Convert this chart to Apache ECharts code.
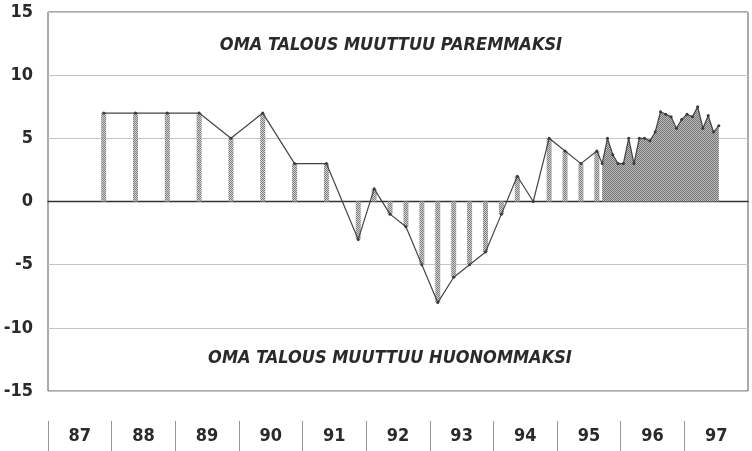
<!DOCTYPE html>
<html>
<head>
<meta charset="utf-8">
<script src="https://cdn.jsdelivr.net/npm/echarts@6/dist/echarts.min.js"></script>
<style>
  html, body { margin: 0; padding: 0; background: #fff; }
  #chart { width: 752px; height: 451px; }
</style>
</head>
<body>
<div id="chart"></div>
<script>
// survey months and balance figures (semiannual, later quarterly)
const sparseMonths = ['1987-11', '1988-05', '1988-11', '1989-05', '1989-11', '1990-05', '1990-11', '1991-05',
    '1991-11', '1992-02', '1992-05', '1992-08', '1992-11', '1993-02', '1993-05', '1993-08', '1993-11',
    '1994-02', '1994-05', '1994-08', '1994-11', '1995-02', '1995-05', '1995-08'];
const sparseValues = [7, 7, 7, 7, 5, 7, 3, 3,
    -3, 1, -1, -2, -5, -8, -6, -5, -4,
    -1, 2, 0, 5, 4, 3, 4];

// monthly figures from autumn 1995
const monthlyMonths = ['1995-09', '1995-10', '1995-11', '1995-12', '1996-01', '1996-02', '1996-03', '1996-04',
    '1996-05', '1996-06', '1996-07', '1996-08', '1996-09', '1996-10', '1996-11', '1996-12',
    '1997-01', '1997-02', '1997-03', '1997-04', '1997-05', '1997-06', '1997-07'];
const monthlyValues = [3, 5, 3.7, 3, 3, 5, 3, 5,
    5, 4.8, 5.5, 7.1, 6.9, 6.7, 5.8, 6.5,
    6.9, 6.7, 7.5, 5.8, 6.8, 5.5, 6];

const years = [1987, 1988, 1989, 1990, 1991, 1992, 1993, 1994, 1995, 1996, 1997];
const yearLabels = ['87', '88', '89', '90', '91', '92', '93', '94', '95', '96', '97'];
const yTicks = [-15, -10, -5, 0, 5, 10, 15];

const textTop = 'OMA TALOUS MUUTTUU PAREMMAKSI';
const textBottom = 'OMA TALOUS MUUTTUU HUONOMMAKSI';

const FONT = "'Liberation Sans Narrow', 'DejaVu Sans Condensed', 'Roboto Condensed', sans-serif";

// month string -> decimal year (middle of month)
function toYear(m) {
    const p = m.split('-');
    return Number(p[0]) + (Number(p[1]) - 0.5) / 12;
}

// stipple pattern like the printed halftone
function stipple(dark, light) {
    const c = document.createElement('canvas');
    c.width = 2;
    c.height = 2;
    const ctx = c.getContext('2d');
    ctx.fillStyle = light;
    ctx.fillRect(0, 0, 2, 2);
    ctx.fillStyle = dark;
    ctx.fillRect(0, 0, 1, 1);
    ctx.fillRect(1, 1, 1, 1);
    return { image: c, repeat: 'repeat' };
}

const sparseData = sparseMonths.map((m, i) => [toYear(m), sparseValues[i]]);
const monthlyData = monthlyMonths.map((m, i) => [toYear(m), monthlyValues[i]]);

const myChart = echarts.init(document.getElementById('chart'));
const option = {
    animation: false,
    backgroundColor: '#fff',
    grid: {
        left: 48, right: 4, top: 12, bottom: 60,
        show: true, borderColor: '#555', borderWidth: 1
    },
    xAxis: [
        {
            type: 'value',
            min: years[0],
            max: years[years.length - 1] + 1,
            axisLine: { show: true, onZero: true, lineStyle: { color: '#333', width: 1.4 } },
            axisTick: { show: false },
            axisLabel: { show: false },
            splitLine: { show: false }
        },
        {
            type: 'value',
            position: 'bottom',
            offset: 30,
            min: years[0],
            max: years[years.length - 1] + 1,
            axisLine: { show: false },
            axisTick: {
                show: true, length: 30, customValues: years,
                lineStyle: { color: '#999', width: 1 }
            },
            axisLabel: {
                show: true, margin: 6,
                customValues: years.map(y => y + 0.5),
                formatter: v => yearLabels[years.indexOf(Math.floor(v))],
                fontFamily: FONT, fontSize: 18, fontWeight: 'bold', color: '#2a2a2a'
            },
            splitLine: { show: false }
        }
    ],
    yAxis: {
        type: 'value',
        min: yTicks[0],
        max: yTicks[yTicks.length - 1],
        interval: 5,
        axisLine: { show: false },
        axisTick: { show: false },
        axisLabel: { margin: 15, fontFamily: FONT, fontSize: 18, fontWeight: 'bold', color: '#2a2a2a' },
        splitLine: { lineStyle: { color: '#c4c4c4', width: 1 } }
    },
    graphic: [
        {
            type: 'text', x: 391, y: 45,
            style: {
                text: textTop, align: 'center', verticalAlign: 'middle',
                font: "italic bold 18px " + FONT, fill: '#2a2a2a'
            }
        },
        {
            type: 'text', x: 390, y: 358,
            style: {
                text: textBottom, align: 'center', verticalAlign: 'middle',
                font: "italic bold 18px " + FONT, fill: '#2a2a2a'
            }
        }
    ],
    series: [
        {
            name: 'pylväät',
            type: 'bar',
            data: sparseData,
            barWidth: 5,
            itemStyle: { color: stipple('#808080', '#d0d0d0') },
            z: 2
        },
        {
            name: 'kuukausittain',
            type: 'line',
            data: monthlyData,
            symbol: 'none',
            lineStyle: { width: 0 },
            areaStyle: { color: stipple('#747474', '#bdbdbd'), opacity: 1 },
            z: 2
        },
        {
            name: 'saldoluku',
            type: 'line',
            data: sparseData.concat(monthlyData),
            symbol: 'circle',
            symbolSize: 3,
            itemStyle: { color: '#3a3a3a' },
            lineStyle: { color: '#444', width: 1.2 },
            z: 3
        }
    ]
};
myChart.setOption(option);
</script>
</body>
</html>
